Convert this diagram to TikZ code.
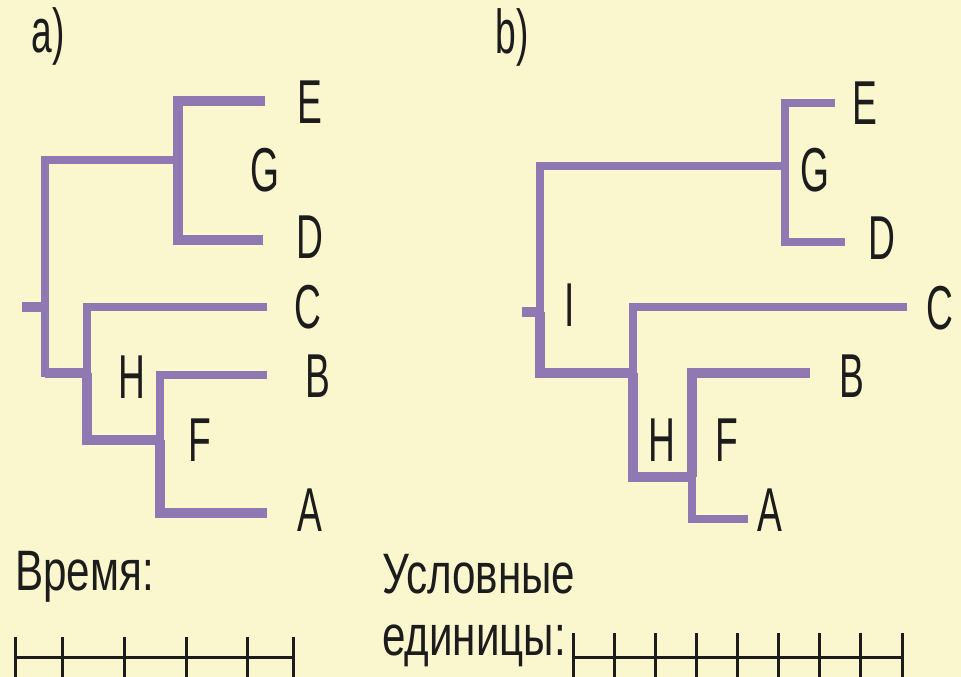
\documentclass[tikz,border=0pt]{standalone}
\usepackage{fontspec}
\setmainfont[FakeStretch=0.74]{Liberation Sans}
\newfontfamily\narrowsans[FakeStretch=0.6]{Liberation Sans}
\definecolor{paper}{HTML}{FAF6CE}
\definecolor{branch}{HTML}{9079B2}
\definecolor{ink}{HTML}{1C1C1C}

\begin{document}
\begin{tikzpicture}[x=1pt,y=-1pt,
    thin branch/.style={draw=branch,line width=8pt},
    thick branch/.style={draw=branch,line width=10.5pt},
    taxon/.style={text=ink,inner sep=0pt,font=\narrowsans\fontsize{62}{62}\selectfont},
    caption/.style={text=ink,inner sep=0pt,anchor=base west,font=\fontsize{57}{57}\selectfont},
    scalebar/.style={draw=ink,line width=3pt}]
  \fill[paper] (0,0) rectangle (961,677);
  \useasboundingbox (0,0) rectangle (961,677);

  % a) tree
  \node[taxon] (alabel) at (48,36) {a)};
  \coordinate (aS) at (22,307);
  \coordinate (aR) at (45,307);
  \coordinate (aG) at (178,160);
  \coordinate (aH) at (87,373);
  \coordinate (aF) at (160,440);
  \coordinate (aEt) at (265,101);
  \coordinate (aDt) at (263,240);
  \coordinate (aCt) at (267,307);
  \coordinate (aBt) at (267,375);
  \coordinate (aAt) at (267,513);
  \draw[thick branch] (aS) -- (aR);
  \draw[thin branch] (aR) |- (aG);
  \draw[thin branch] (aR) |- (aH);
  \draw[thick branch] (aR |- aH) -- (aH);
  \draw[thick branch] (aG) |- (aEt);
  \draw[thick branch] (aG) |- (aDt);
  \draw[thin branch] (aH) |- (aCt);
  \draw[thick branch] (aH) |- (aF);
  \draw[thin branch] (aF) |- (aBt);
  \draw[thick branch] (aF) |- (aAt);
  \node[taxon] (aE) at (310,102) {E};
  \node[taxon] (aGl) at (265,170) {G};
  \node[taxon] (aD) at (310,237) {D};
  \node[taxon] (aC) at (308,307) {C};
  \node[taxon] (aB) at (318,376) {B};
  \node[taxon] (aHl) at (132,377) {H};
  \node[taxon] (aFl) at (200,440) {F};
  \node[taxon] (aA) at (310,510) {A};

  % b) tree
  \node[taxon] (blabel) at (512,37) {b)};
  \coordinate (bS) at (522,312);
  \coordinate (bR) at (540,312);
  \coordinate (bG) at (785,166);
  \coordinate (bH) at (633,373);
  \coordinate (bF) at (692,477);
  \coordinate (bEt) at (835,103);
  \coordinate (bDt) at (845,242);
  \coordinate (bCt) at (907,307);
  \coordinate (bBt) at (810,373);
  \coordinate (bAt) at (748,519);
  \draw[thick branch] (bS) -- (bR);
  \draw[thin branch] (bR) |- (bG);
  \draw[thick branch] (bR) |- (bH);
  \draw[thin branch] (bG) |- (bEt);
  \draw[thin branch] (bG) |- (bDt);
  \draw[thin branch] (bH) |- (bCt);
  \draw[thick branch] (bH) |- (bF);
  \draw[thick branch] (bF) |- (bBt);
  \draw[thin branch] (bF) |- (bAt);
  \node[taxon] (bE) at (865,103) {E};
  \node[taxon] (bGl) at (815,170) {G};
  \node[taxon] (bD) at (882,238) {D};
  \node[taxon] (bC) at (940,308) {C};
  \node[taxon] (bB) at (852,376) {B};
  \node[taxon] (bI) at (570,305) {I};
  \node[taxon] (bHl) at (662,440) {H};
  \node[taxon] (bFl) at (727,440) {F};
  \node[taxon] (bA) at (770,510) {A};

  % time scales
  \node[caption] (time) at (15,590) {Время:};
  \node[caption] (units1) at (382,593) {Условные};
  \node[caption] (units2) at (382,655) {единицы:};
  \draw[scalebar] (15,657) -- (293,657);
  \foreach \x in {15,62,124,186,247,293}
    \draw[scalebar] (\x,637) -- (\x,677);
  \draw[scalebar] (573,657) -- (902,657);
  \foreach \i in {0,...,8}
    \draw[scalebar] (573+41.125*\i,633) -- (573+41.125*\i,677);
\end{tikzpicture}
\end{document}
